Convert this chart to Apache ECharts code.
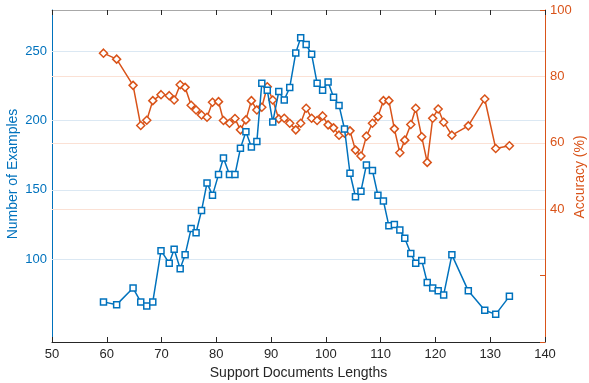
<!DOCTYPE html>
<html>
<head>
<meta charset="utf-8">
<script src="https://cdn.jsdelivr.net/npm/echarts@6/dist/echarts.min.js"></script>
<style>
  html, body { margin: 0; background: #fff; }
  #chart { width: 589px; height: 383px; }
</style>
</head>
<body>
<div id="chart"></div>
<script>
// support document lengths (shared x positions)
const docLengths = [59.4, 61.8, 64.8, 66.2, 67.3, 68.4, 69.9, 71.4, 72.3, 73.4,
  74.3, 75.4, 76.3, 77.3, 78.3, 79.3, 80.4, 81.3, 82.4, 83.4,
  84.4, 85.4, 86.4, 87.4, 88.3, 89.3, 90.3, 91.4, 92.4, 93.4,
  94.5, 95.4, 96.4, 97.4, 98.4, 99.4, 100.4, 101.4, 102.4, 103.4,
  104.4, 105.4, 106.4, 107.4, 108.5, 109.5, 110.5, 111.5, 112.5, 113.5,
  114.4, 115.5, 116.4, 117.5, 118.5, 119.5, 120.5, 121.5, 123, 126,
  129, 131, 133.5];

// number of examples (left axis)
const exampleCounts = [69, 67, 79, 69, 66, 69, 106, 97, 107, 93,
  103, 122, 119, 135, 155, 146, 161, 173, 161, 161,
  180, 192, 181, 185, 227, 222, 199, 221, 215, 224,
  249, 260, 255, 248, 227, 222, 228, 217, 211, 194,
  162, 145, 149, 168, 164, 146, 142, 124, 125, 121,
  115, 104, 97, 99, 83, 79, 77, 74, 103, 77,
  63, 60, 73];

// accuracy in % (right axis)
const accuracy = [87, 85.2, 77.3, 65.2, 66.8, 72.7, 74.5, 74.2, 72.9, 77.5,
  76.7, 71.3, 69.9, 68.4, 67.7, 72.2, 72.4, 66.7, 65.9, 67.3,
  63.9, 66.9, 72.7, 69.9, 70.7, 76.9, 72.9, 67.2, 67.4, 65.9,
  63.9, 65.9, 70.4, 67.4, 66.7, 68.1, 65.4, 64.5, 62.3, 62.9,
  63.6, 57.8, 56, 62, 65.9, 67.9, 72.7, 72.7, 64.2, 57,
  60.8, 65.5, 70.4, 61.8, 54.1, 67.4, 70.2, 66.2, 62.3, 65.1,
  73.2, 58.3, 59.1];

const countTicks = [100, 150, 200, 250];
const accGridTicks = [40, 60, 80];

const BLUE = '#0072BD';
const ORANGE = '#D95319';
const DARK = '#262626';
const FONT = 'Liberation Sans';

const chart = echarts.init(document.getElementById('chart'));

chart.setOption({
  animation: false,
  textStyle: { fontFamily: FONT },
  grid: { left: 52, right: 44, top: 10, bottom: 41, outerBoundsMode: 'none', containLabel: false },
  // y-axis titles placed by hand (axis name positioning ignored nameGap here)
  graphic: [
    {
      type: 'text',
      x: 13,
      y: 174,
      rotation: Math.PI / 2,
      style: { text: 'Number of Examples', fill: BLUE, font: '14px "Liberation Sans"', align: 'center', verticalAlign: 'middle' },
    },
    {
      type: 'text',
      x: 580,
      y: 177,
      rotation: Math.PI / 2,
      style: { text: 'Accuracy (%)', fill: ORANGE, font: '14px "Liberation Sans"', align: 'center', verticalAlign: 'middle' },
    },
  ],
  xAxis: [
    {
      type: 'value',
      min: 50,
      max: 140,
      interval: 10,
      position: 'bottom',
      name: 'Support Documents Lengths',
      nameLocation: 'middle',
      nameGap: 24,
      nameTextStyle: { color: DARK, fontSize: 14, fontFamily: FONT },
      axisLine: { lineStyle: { color: DARK, width: 1 } },
      axisTick: { inside: true, length: 5, lineStyle: { color: DARK } },
      axisLabel: { color: DARK, fontSize: 13, margin: 6, fontFamily: FONT },
      splitLine: { show: false },
    },
    {
      type: 'value',
      min: 50,
      max: 140,
      interval: 10,
      position: 'top',
      axisLine: { lineStyle: { color: '#a8a8a8', width: 1 } },
      axisTick: { inside: true, length: 5, lineStyle: { color: DARK } },
      axisLabel: { show: false },
      splitLine: { show: false },
    },
  ],
  yAxis: [
    {
      type: 'value',
      min: 40,
      max: 280,
      interval: 10,
      position: 'left',
      axisLine: { show: true, lineStyle: { color: BLUE, width: 1 } },
      axisTick: { inside: true, length: 5, customValues: countTicks, lineStyle: { color: BLUE } },
      axisLabel: { customValues: countTicks, color: BLUE, fontSize: 13, margin: 5, fontFamily: FONT },
      splitLine: { show: false },
    },
    {
      type: 'value',
      min: 0,
      max: 100,
      interval: 20,
      position: 'right',
      axisLine: { show: true, lineStyle: { color: ORANGE, width: 1 } },
      axisTick: { inside: true, length: 5, lineStyle: { color: ORANGE } },
      axisLabel: {
        color: ORANGE,
        fontSize: 13,
        margin: 5,
        fontFamily: FONT,
        formatter: (v) => (v >= 40 ? String(v) : ''),
      },
      splitLine: { show: false },
    },
    {
      // mirrored left-axis ticks on the right edge
      type: 'value',
      min: 40,
      max: 280,
      position: 'right',
      axisLine: { show: false },
      axisTick: { inside: true, length: 5, customValues: countTicks, lineStyle: { color: BLUE } },
      axisLabel: { show: false },
      splitLine: { show: false },
    },
  ],
  series: [
    {
      name: 'Number of Examples',
      type: 'line',
      xAxisIndex: 0,
      yAxisIndex: 0,
      data: docLengths.map((x, i) => [x, exampleCounts[i]]),
      symbol: 'rect',
      symbolSize: 6,
      lineStyle: { color: BLUE, width: 1.5 },
      itemStyle: { color: '#fff', borderColor: BLUE, borderWidth: 1.5 },
      z: 4,
      markLine: {
        silent: true,
        symbol: 'none',
        z: 1,
        label: { show: false },
        lineStyle: { color: '#dbe8f3', type: 'solid', width: 1 },
        data: countTicks.map((v) => ({ yAxis: v })),
      },
    },
    {
      name: 'Accuracy',
      type: 'line',
      xAxisIndex: 0,
      yAxisIndex: 1,
      data: docLengths.map((x, i) => [x, accuracy[i]]),
      symbol: 'diamond',
      symbolSize: 8,
      lineStyle: { color: ORANGE, width: 1.5 },
      itemStyle: { color: '#fff', borderColor: ORANGE, borderWidth: 1.5 },
      z: 3,
      markLine: {
        silent: true,
        symbol: 'none',
        z: 1,
        label: { show: false },
        lineStyle: { color: '#fbe1d5', type: 'solid', width: 1 },
        data: accGridTicks.map((v) => ({ yAxis: v })),
      },
    },
  ],
});
</script>
</body>
</html>
